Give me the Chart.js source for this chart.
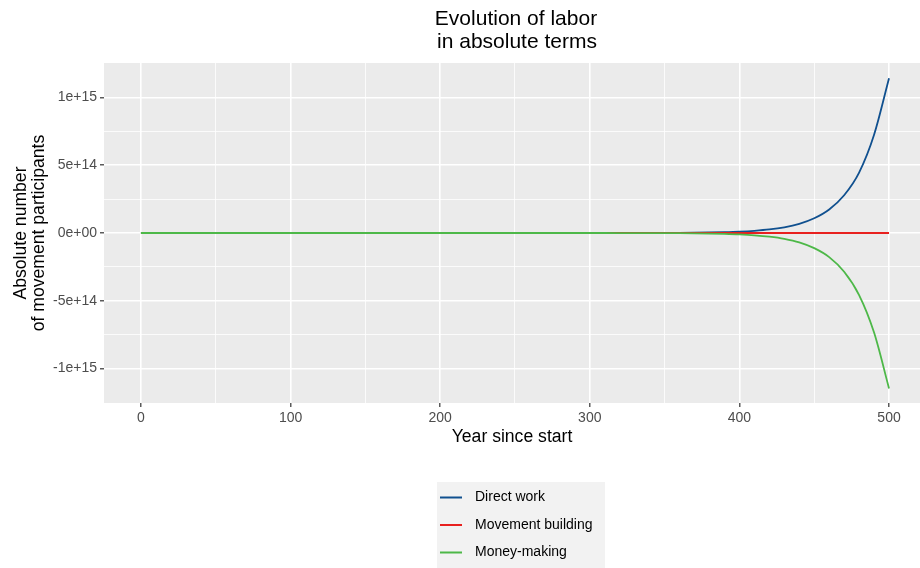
<!DOCTYPE html>
<html>
<head>
<meta charset="utf-8">
<script src="https://cdn.jsdelivr.net/npm/chart.js@4.4.0/dist/chart.umd.min.js"></script>
<style>html,body{margin:0;padding:0;background:#fff}</style>
</head>
<body>
<canvas id="labor" width="920" height="568"></canvas>
<script>
// years since start, every 10 years
const years = [0,10,20,30,40,50,60,70,80,90,100,110,120,130,140,150,160,170,180,190,
  200,210,220,230,240,250,260,270,280,290,300,310,320,330,340,350,360,370,380,390,
  400,410,420,430,440,450,460,470,480,490,500];

const directWork = [6.6e4,1.1e5,1.7e5,2.7e5,4.4e5,7.0e5,1.1e6,1.8e6,2.9e6,4.6e6,
  7.4e6,1.2e7,1.9e7,3.0e7,4.9e7,7.8e7,1.3e8,2.0e8,3.2e8,5.2e8,
  8.3e8,1.3e9,2.1e9,3.4e9,5.5e9,8.8e9,1.4e10,2.3e10,3.6e10,5.8e10,
  9.3e10,1.5e11,2.4e11,3.8e11,6.0e11,9.7e11,1.6e12,2.5e12,4.0e12,6.4e12,
  1.02e13,1.64e13,2.6e13,4.2e13,6.8e13,1.09e14,1.74e14,2.79e14,4.46e14,7.25e14,1.142e15];

const movementBuilding = [0,0,0,0,0,0,0,0,0,0,0,0,0,0,0,0,0,0,0,0,
  0,0,0,0,0,0,0,0,0,0,0,0,0,0,0,0,0,0,0,0,
  0,0,0,0,0,0,0,0,0,0,0];

const moneyMaking = [-6.6e4,-1.1e5,-1.7e5,-2.7e5,-4.4e5,-7.0e5,-1.1e6,-1.8e6,-2.9e6,-4.6e6,
  -7.4e6,-1.2e7,-1.9e7,-3.0e7,-4.9e7,-7.8e7,-1.3e8,-2.0e8,-3.2e8,-5.2e8,
  -8.3e8,-1.3e9,-2.1e9,-3.4e9,-5.5e9,-8.8e9,-1.4e10,-2.3e10,-3.6e10,-5.9e10,
  -9.5e10,-1.5e11,-2.4e11,-3.9e11,-6.2e11,-1.0e12,-1.6e12,-2.6e12,-4.1e12,-6.6e12,
  -1.05e13,-1.68e13,-2.7e13,-4.3e13,-6.9e13,-1.12e14,-1.78e14,-2.86e14,-4.58e14,-7.35e14,-1.147e15];

const seriesNames = ['Direct work', 'Movement building', 'Money-making'];
const seriesColors = ['#10508F', '#E8211F', '#4DB848'];

const xMajor = [0, 100, 200, 300, 400, 500];
const xMinor = [50, 150, 250, 350, 450];
const yTickValues = [-1e15, -5e14, 0, 5e14, 1e15];
const yTickLabels = ['-1e+15', '-5e+14', '0e+00', '5e+14', '1e+15'];
const yMinor = [-7.5e14, -2.5e14, 2.5e14, 7.5e14];

Chart.defaults.font.family = '"Liberation Sans", Arial, Helvetica, sans-serif';

function pts(vals) {
  return years.map((y, i) => ({x: y, y: vals[i]}));
}

const panelBg = {
  id: 'panelBg',
  beforeDraw(chart) {
    const {ctx, chartArea: a} = chart;
    ctx.save();
    ctx.fillStyle = '#fff';
    ctx.fillRect(0, 0, chart.width, chart.height);
    ctx.fillStyle = '#EBEBEB';
    ctx.fillRect(a.left, a.top, a.right - a.left, a.bottom - a.top);
    ctx.restore();
  }
};

const titleAndLegend = {
  id: 'titleAndLegend',
  afterDraw(chart) {
    const ctx = chart.ctx;
    ctx.save();
    ctx.fillStyle = '#000';
    ctx.textAlign = 'center';
    ctx.textBaseline = 'middle';
    ctx.font = '21px "Liberation Sans", Arial, sans-serif';
    ctx.fillText('Evolution of labor', 516, 19);
    ctx.fillText('in absolute terms', 517, 42);

    // legend
    ctx.fillStyle = '#F2F2F2';
    ctx.fillRect(437, 482, 168, 86);
    ctx.textAlign = 'left';
    ctx.font = '14px "Liberation Sans", Arial, sans-serif';
    chart.data.datasets.forEach((ds, i) => {
      const y = 497.5 + i * 27.5;
      ctx.strokeStyle = ds.borderColor;
      ctx.lineWidth = 2;
      ctx.beginPath();
      ctx.moveTo(440, y);
      ctx.lineTo(462, y);
      ctx.stroke();
      ctx.fillStyle = '#000';
      ctx.fillText(ds.label, 475, y);
    });
    ctx.restore();
  }
};

const isMinorX = v => xMinor.includes(v);
const isMinorY = v => yMinor.includes(v);

new Chart(document.getElementById('labor'), {
  type: 'line',
  data: {
    datasets: [
      {label: seriesNames[0], data: pts(directWork), borderColor: seriesColors[0], order: 2},
      {label: seriesNames[1], data: pts(movementBuilding), borderColor: seriesColors[1], order: 1},
      {label: seriesNames[2], data: pts(moneyMaking), borderColor: seriesColors[2], order: 0}
    ]
  },
  options: {
    responsive: false,
    animation: false,
    layout: {padding: {top: 63, left: 0, right: 0, bottom: 0}},
    elements: {
      point: {radius: 0},
      line: {borderWidth: 1.8, cubicInterpolationMode: 'monotone', fill: false}
    },
    plugins: {legend: {display: false}, title: {display: false}, tooltip: {enabled: false}},
    scales: {
      x: {
        type: 'linear',
        min: -24.7,
        max: 520.7,
        border: {display: false},
        afterBuildTicks: s => { s.ticks = xMajor.concat(xMinor).sort((a, b) => a - b).map(v => ({value: v})); },
        afterFit: s => { s.height = 165; },
        grid: {
          color: '#fff',
          lineWidth: c => isMinorX(c.tick.value) ? 0.8 : 1.6,
          tickLength: 4,
          tickColor: c => isMinorX(c.tick.value) ? 'rgba(0,0,0,0)' : '#333',
          tickWidth: 1.2
        },
        ticks: {
          color: '#4D4D4D',
          font: {size: 14},
          padding: 3,
          maxRotation: 0,
          autoSkip: false,
          callback: v => xMajor.includes(v) ? String(v) : ''
        },
        title: {
          display: true,
          text: 'Year since start',
          color: '#000',
          font: {size: 17.6},
          padding: {top: 0, bottom: 120.4}
        }
      },
      y: {
        type: 'linear',
        min: -1.2546e15,
        max: 1.2546e15,
        border: {display: false},
        afterBuildTicks: s => { s.ticks = yTickValues.concat(yMinor).sort((a, b) => a - b).map(v => ({value: v})); },
        afterFit: s => { s.width = 104; },
        grid: {
          color: '#fff',
          lineWidth: c => isMinorY(c.tick.value) ? 0.8 : 1.6,
          tickLength: 4,
          tickColor: c => isMinorY(c.tick.value) ? 'rgba(0,0,0,0)' : '#333',
          tickWidth: 1.2
        },
        ticks: {
          color: '#4D4D4D',
          font: {size: 14},
          padding: 3,
          autoSkip: false,
          callback: v => {
            const i = yTickValues.indexOf(v);
            return i >= 0 ? yTickLabels[i] : '';
          }
        },
        title: {
          display: true,
          text: ['Absolute number', 'of movement participants'],
          color: '#000',
          font: {size: 17.6, lineHeight: 1.057},
          padding: {top: 11.4, bottom: 0}
        }
      }
    }
  },
  plugins: [panelBg, titleAndLegend]
});
</script>
</body>
</html>
